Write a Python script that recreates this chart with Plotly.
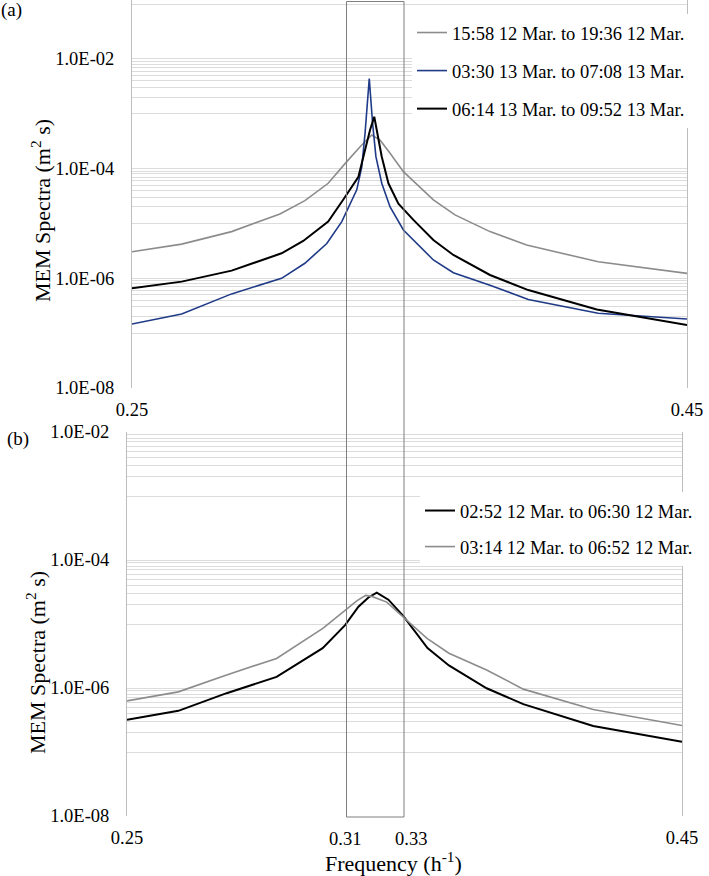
import plotly.graph_objects as go

# ---------------- data ----------------
# Panel (a)
a_gray_f = [0.25, 0.2679, 0.2859, 0.3033, 0.3123, 0.3207, 0.3274, 0.3322, 0.3364, 0.3394,
            0.3430, 0.3478, 0.3586, 0.3664, 0.3790, 0.3922, 0.4180, 0.45]
a_gray_s = [3.05e-6, 4.2e-6, 7.1e-6, 1.49e-5, 2.6e-5, 5.4e-5, 1.34e-4, 2.5e-4, 4.1e-4, 3.3e-4,
            1.9e-4, 8.8e-5, 2.7e-5, 1.43e-5, 7.1e-6, 4.05e-6, 2.0e-6, 1.23e-6]

a_blue_f = [0.25, 0.2679, 0.2859, 0.3039, 0.3123, 0.3202, 0.3256, 0.3292, 0.3310, 0.3328,
            0.3340, 0.3355, 0.3367, 0.3379, 0.3400, 0.3430, 0.3478, 0.3586, 0.3658, 0.3790,
            0.3928, 0.4180, 0.45]
a_blue_s = [1.47e-7, 2.23e-7, 5.2e-7, 1.0e-6, 1.88e-6, 4.3e-6, 1.08e-5, 2.7e-5, 4.1e-5, 1.08e-4,
            4.5e-4, 4.4e-3, 6.7e-4, 1.65e-4, 5.4e-5, 2.0e-5, 7.6e-6, 2.16e-6, 1.26e-6, 7.5e-7,
            4.1e-7, 2.3e-7, 1.81e-7]

a_black_f = [0.25, 0.2679, 0.2859, 0.3039, 0.3117, 0.3207, 0.3261, 0.3316, 0.3340, 0.3358,
             0.3373, 0.3385, 0.3400, 0.3424, 0.3460, 0.3514, 0.3586, 0.3658, 0.3790, 0.3928,
             0.4175, 0.45]
a_black_s = [6.6e-7, 8.7e-7, 1.38e-6, 2.86e-6, 4.8e-6, 1.08e-5, 2.7e-5, 7.1e-5, 2.2e-4, 5.1e-4,
             8.8e-4, 4.4e-4, 1.65e-4, 5.4e-5, 2.3e-5, 1.16e-5, 5.0e-6, 2.66e-6, 1.15e-6, 6.1e-7,
             2.7e-7, 1.41e-7]

a_names = ["15:58 12 Mar. to 19:36 12 Mar.",
           "03:30 13 Mar. to 07:08 13 Mar.",
           "06:14 13 Mar. to 09:52 13 Mar."]

# Panel (b)
b_black_f = [0.25, 0.2685, 0.2859, 0.3039, 0.3205, 0.3286, 0.3334, 0.3370, 0.3400, 0.3442,
             0.3496, 0.3583, 0.3660, 0.3796, 0.3928, 0.4180, 0.45]
b_black_s = [3.2e-7, 4.4e-7, 8.3e-7, 1.49e-6, 4.2e-6, 9.6e-6, 1.86e-5, 2.6e-5, 3.1e-5, 2.4e-5,
             1.33e-5, 4.2e-6, 2.25e-6, 9.9e-7, 5.6e-7, 2.55e-7, 1.45e-7]

b_gray_f = [0.25, 0.2685, 0.2859, 0.3039, 0.3207, 0.3292, 0.3328, 0.3360, 0.3382, 0.3436,
            0.3496, 0.3580, 0.3660, 0.3796, 0.3928, 0.4180, 0.45]
b_gray_s = [6.3e-7, 8.7e-7, 1.6e-6, 2.9e-6, 8.6e-6, 1.73e-5, 2.3e-5, 2.8e-5, 2.7e-5, 2.2e-5,
            1.29e-5, 6.0e-6, 3.5e-6, 1.91e-6, 9.6e-7, 4.6e-7, 2.6e-7]

b_names = ["02:52 12 Mar. to 06:30 12 Mar.",
           "03:14 12 Mar. to 06:52 12 Mar."]

y_tickvals = [1e-8, 1e-6, 1e-4, 1e-2]
y_ticktext = ["1.0E-08", "1.0E-06", "1.0E-04", "1.0E-02"]
x_tickvals = [0.25, 0.45]
x_ticktext = ["0.25", "0.45"]
band_labels = ["0.31", "0.33"]

# ---------------- styling ----------------
W, H = 709, 876
FONT = "Liberation Serif"
GRAY = "#8c8c8c"
BLUE = "#1f3a87"
BLACK = "#000000"
GRID = "#dcdcdc"
AXIS = "#bdbdbd"


def minor_vals(exps):
    return [k * 10.0 ** e for e in exps for k in range(1, 10)]


fig = go.Figure()

fig.add_trace(go.Scatter(x=a_gray_f, y=a_gray_s, mode="lines", name=a_names[0],
                         line=dict(color=GRAY, width=1.6), xaxis="x", yaxis="y",
                         legend="legend", legendgroup="a1"))
fig.add_trace(go.Scatter(x=a_blue_f, y=a_blue_s, mode="lines", name=a_names[1],
                         line=dict(color=BLUE, width=1.6), xaxis="x", yaxis="y",
                         legend="legend", legendgroup="a2"))
fig.add_trace(go.Scatter(x=a_black_f, y=a_black_s, mode="lines", name=a_names[2],
                         line=dict(color=BLACK, width=2), xaxis="x", yaxis="y",
                         legend="legend", legendgroup="a3"))

fig.add_trace(go.Scatter(x=b_black_f, y=b_black_s, mode="lines", name=b_names[0],
                         line=dict(color=BLACK, width=2), xaxis="x2", yaxis="y2",
                         legend="legend2", legendgroup="b1"))
fig.add_trace(go.Scatter(x=b_gray_f, y=b_gray_s, mode="lines", name=b_names[1],
                         line=dict(color=GRAY, width=1.6), xaxis="x2", yaxis="y2",
                         legend="legend2", legendgroup="b2"))

tickfont = dict(family=FONT, size=18.5, color="#000")

common_x = dict(range=[0.25, 0.45], tickmode="array", tickvals=x_tickvals, ticktext=x_ticktext,
                showgrid=False, zeroline=False, showline=False, ticks="",
                tickfont=tickfont, automargin=False, ticklabelstandoff=8)
common_y = dict(type="log", tickmode="array", tickvals=y_tickvals, ticktext=y_ticktext,
                showgrid=True, gridcolor=GRID, gridwidth=1, zeroline=False,
                showline=True, linecolor=AXIS, linewidth=1, mirror=True, ticks="",
                tickfont=tickfont, automargin=False, ticklabelstandoff=13)

# pixel geometry
a_left, a_right, a_bottom = 132, 687, 388
b_left, b_right, b_top, b_bottom = 127, 682, 432, 816
a_top_log = -8 + a_bottom / 54.85

fig.update_layout(
    width=W, height=H,
    margin=dict(l=0, r=0, t=0, b=0),
    paper_bgcolor="white", plot_bgcolor="white",
    font=dict(family=FONT, color="#000"),
    showlegend=True,
    xaxis=dict(common_x, domain=[a_left / W, a_right / W], anchor="y"),
    yaxis=dict(common_y, domain=[1 - a_bottom / H, 1], anchor="x",
               range=[-8, a_top_log],
               minor=dict(tickmode="array", tickvals=minor_vals([-7, -5, -3, -1]),
                          showgrid=True, gridcolor=GRID, gridwidth=1, ticks="")),
    xaxis2=dict(common_x, domain=[b_left / W, b_right / W], anchor="y2"),
    yaxis2=dict(common_y, domain=[1 - b_bottom / H, 1 - b_top / H], anchor="x2",
                range=[-8, -2],
                minor=dict(tickmode="array", tickvals=minor_vals([-7, -5, -3]),
                           showgrid=True, gridcolor=GRID, gridwidth=1, ticks="")),
    legend=dict(x=412 / W, y=1 - 14 / H, xanchor="left", yanchor="top",
                bgcolor="white", borderwidth=0, font=dict(family=FONT, size=18.5),
                tracegroupgap=11, itemwidth=30),
    legend2=dict(x=420 / W, y=1 - 492 / H, xanchor="left", yanchor="top",
                 bgcolor="white", borderwidth=0, font=dict(family=FONT, size=18.5),
                 tracegroupgap=9, itemwidth=30),
)

# frequency band rectangle spanning both panels
fig.add_shape(type="rect", xref="paper", yref="paper",
              x0=346.5 / W, x1=404 / W, y0=1 - 817 / H, y1=1 - 1.5 / H,
              line=dict(color="#7f7f7f", width=1), fillcolor="rgba(0,0,0,0)", layer="above")

ann_font = dict(family=FONT, size=18.5, color="#000")
fig.add_annotation(text=band_labels[0], xref="paper", yref="paper", x=345 / W, y=1 - 839 / H,
                   showarrow=False, font=ann_font, xanchor="center", yanchor="middle")
fig.add_annotation(text=band_labels[1], xref="paper", yref="paper", x=411 / W, y=1 - 839 / H,
                   showarrow=False, font=ann_font, xanchor="center", yanchor="middle")

title_font = dict(family=FONT, size=22, color="#000")
fig.add_annotation(text="MEM Spectra (m<sup>2</sup> s)", xref="paper", yref="paper",
                   x=41 / W, y=1 - 211 / H, textangle=-90, showarrow=False, font=title_font,
                   xanchor="center", yanchor="middle")
fig.add_annotation(text="MEM Spectra (m<sup>2</sup> s)", xref="paper", yref="paper",
                   x=36 / W, y=1 - 663 / H, textangle=-90, showarrow=False, font=title_font,
                   xanchor="center", yanchor="middle")
fig.add_annotation(text="Frequency (h<sup>-1</sup>)", xref="paper", yref="paper",
                   x=393 / W, y=1 - 862 / H, showarrow=False, font=title_font,
                   xanchor="center", yanchor="middle")

fig.add_annotation(text="(a)", xref="paper", yref="paper", x=11 / W, y=1 - 10 / H,
                   showarrow=False, font=dict(family=FONT, size=19, color="#000"),
                   xanchor="center", yanchor="middle")
fig.add_annotation(text="(b)", xref="paper", yref="paper", x=17.5 / W, y=1 - 439 / H,
                   showarrow=False, font=dict(family=FONT, size=19, color="#000"),
                   xanchor="center", yanchor="middle")

fig.write_html("out.html",
               config={"displayModeBar": False},
               post_script="document.body.style.margin='0';"
                           "document.body.style.padding='0';"
                           "document.body.style.overflow='hidden';")
